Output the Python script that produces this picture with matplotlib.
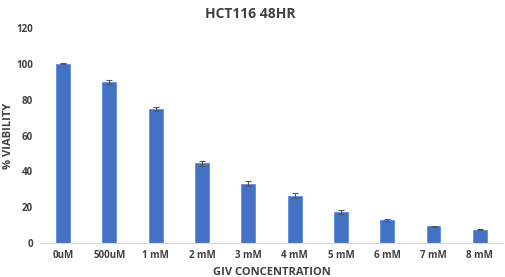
import numpy as np
import matplotlib.pyplot as plt

# data
categories = ['0uM', '500uM', '1 mM', '2 mM', '3 mM', '4 mM', '5 mM', '6 mM', '7 mM', '8 mM']
viability = [100.0, 89.8, 74.7, 44.4, 33.1, 26.5, 17.2, 12.8, 9.3, 7.4]
errors = [0.3, 1.2, 1.0, 1.3, 1.3, 1.2, 1.0, 0.4, 0.4, 0.3]

plt.rcParams['font.family'] = ['Open Sans', 'DejaVu Sans']

fig = plt.figure(figsize=(5.05, 2.77), dpi=100)
ax = fig.add_axes([0.079, 0.1227, 0.917, 0.776])

x = np.arange(len(categories))
ax.bar(x, viability, width=0.3, color='#4472C4', edgecolor='#5B8BE0', linewidth=0.6,
       yerr=errors, capsize=2.5, ecolor='#555555', error_kw={'elinewidth': 0.8, 'capthick': 0.8})

ax.set_xlim(-0.5, len(categories) - 0.5)
ax.set_ylim(0, 120)
ax.set_yticks(range(0, 121, 20))
ax.set_xticks(x)
ax.set_xticklabels(categories)

for s in ['top', 'right', 'left']:
    ax.spines[s].set_visible(False)
ax.spines['bottom'].set_color('#D9D9D9')
ax.spines['bottom'].set_linewidth(0.8)
ax.tick_params(axis='both', length=0, labelsize=7, colors='#404040', pad=5)
for lbl in ax.get_xticklabels() + ax.get_yticklabels():
    lbl.set_fontweight('bold')

ax.set_xlabel('GIV CONCENTRATION', fontsize=8, fontweight='bold', color='#404040', labelpad=4)
fig.text(0.016, 0.51, '% VIABILITY', rotation=90, ha='center', va='center',
         fontsize=8, fontweight='bold', color='#404040')
fig.text(0.495, 0.95, 'HCT116 48HR', ha='center', va='center', fontsize=10, fontweight='bold', color='#404040')

fig.savefig('out.png', dpi=100)
